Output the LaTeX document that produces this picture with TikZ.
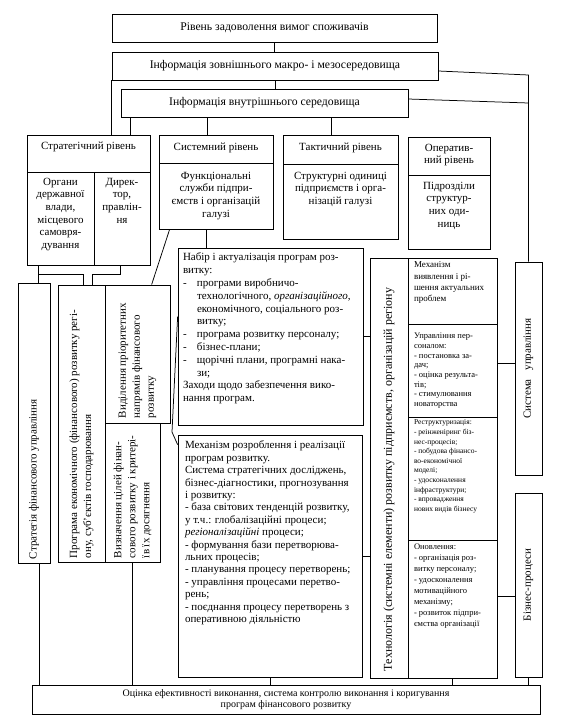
\documentclass[tikz,border=0pt]{standalone}
\usepackage{fontspec}
\setmainfont{Liberation Serif}
\usetikzlibrary{fit}
\begin{document}
\begin{tikzpicture}[x=1pt,y=-1pt,line width=0.75pt,
  bx/.style={draw,inner sep=0pt,fit={#1}},
  tc/.style={inner sep=0pt,align=center,font=\fontsize{11}{12.6}\selectfont},
  hd/.style={inner sep=0pt,align=center,font=\fontsize{11.7}{13}\selectfont},
  tl/.style={inner sep=0pt,align=left,font=\fontsize{11}{12.2}\selectfont},
  sm/.style={inner sep=0pt,align=left},
  rot/.style={rotate=90,inner sep=0pt,align=left,font=\fontsize{11}{14}\selectfont}]
\useasboundingbox (0,0) rectangle (586,716);

% ---------- boxes ----------
\node[bx={(112,14)(437,42)}] (lvl) {};
\node[bx={(112,52)(438,80)}] (ext) {};
\node[bx={(121,89)(408,117)}] (int) {};

\node[bx={(27,135)(150,172)}] (stT) {};
\node[bx={(27,172)(94,265)}] (stL) {};
\node[bx={(94,172)(150,265)}] (stR) {};
\node[bx={(27,135)(150,265)}] (strat) {};

\node[bx={(159,135)(273,163)}] (syT) {};
\node[bx={(159,163)(273,229)}] (syB) {};
\node[bx={(159,135)(273,229)}] (sys) {};

\node[bx={(283,135)(398,164)}] (taT) {};
\node[bx={(283,164)(398,239)}] (taB) {};
\node[bx={(283,135)(398,239)}] (tact) {};

\node[bx={(408,137)(490,175)}] (opT) {};
\node[bx={(408,175)(490,249)}] (opB) {};

\node[bx={(18,283)(50,563)}] (fsu) {};
\node[bx={(58,285)(105,562)}] (prog) {};
\node[bx={(105,285)(170,423)}] (prio) {};
\node[bx={(105,423)(160,562)}] (goal) {};

\node[bx={(178,248)(363,425)}] (nabir) {};
\node[bx={(178,435)(362,677)}] (mech) {};

\node[bx={(370,258)(408,678)}] (tech) {};
\node[bx={(408,258)(497,324)}] (r1) {};
\node[bx={(408,324)(497,417)}] (r2) {};
\node[bx={(408,417)(497,540)}] (r3) {};
\node[bx={(408,540)(497,678)}] (r4) {};

\node[bx={(515,262)(542,475)}] (su) {};
\node[bx={(515,493)(542,677)}] (bp) {};

\node[bx={(32,685)(540,714)}] (eval) {};

% ---------- texts ----------
\node[hd] (t-lvl) at (lvl) {Рівень задоволення вимог споживачів};
\node[hd] (t-ext) at (ext) {Інформація зовнішнього макро- і мезосередовища};
\node[hd] (t-int) at (int) {Інформація внутрішнього середовища};

\node[tc,anchor=north] (t-stT) at ([yshift=-7pt]stT.north) {Стратегічний рівень};
\node[tc,anchor=north] (t-stL) at ([yshift=-6pt]stL.north) {Органи\\державної\\влади,\\місцевого\\самовря-\\дування};
\node[tc,anchor=north] (t-stR) at ([yshift=-6pt]stR.north) {Дирек-\\тор,\\правлін-\\ня};

\node[tc,anchor=north] (t-syT) at ([yshift=-8pt]syT.north) {Системний рівень};
\node[tc,anchor=north] (t-syB) at ([yshift=-9pt]syB.north) {Функціональні\\служби підпри-\\ємств і організацій\\галузі};

\node[tc,anchor=north] (t-taT) at ([yshift=-8pt]taT.north) {Тактичний рівень};
\node[tc,anchor=north] (t-taB) at ([yshift=-8pt]taB.north) {Структурні одиниці\\підприємств і орга-\\нізацій галузі};

\node[tc,anchor=north] (t-opT) at ([yshift=-7pt]opT.north) {Оператив-\\ний рівень};
\node[tc,anchor=north] (t-opB) at ([yshift=-7pt]opB.north) {Підрозділи\\структур-\\них оди-\\ниць};

\node[rot,anchor=west] (t-fsu) at ([yshift=4pt]fsu.south) {Стратегія фінансового управління};
\node[rot,anchor=west] (t-prog) at ([yshift=4pt]prog.south) {Програма економічного (фінансового) розвитку регі-\\ону, суб’єктів господарювання};
\node[rot,anchor=west] (t-prio) at ([yshift=5pt]prio.south) {Виділення пріоритетних\\напрямів фінансового\\розвитку};
\node[rot,anchor=west] (t-goal) at ([yshift=4pt]goal.south) {Визначення цілей фінан-\\сового розвитку і критері-\\їв їх досягнення};

\node[tl,anchor=north west,font=\fontsize{11}{12.8}\selectfont] (t-nabir) at ([xshift=5pt,yshift=-5pt]nabir.north west) {%
Набір і актуалізація програм роз-\\
витку:\\
\makebox[14pt][l]{-}програми виробничо-\\
\hspace*{14pt}технологічного, \textit{організаційного},\\
\hspace*{14pt}економічного, соціального роз-\\
\hspace*{14pt}витку;\\
\makebox[14pt][l]{-}програма розвитку персоналу;\\
\makebox[14pt][l]{-}бізнес-плани;\\
\makebox[14pt][l]{-}щорічні плани, програмні нака-\\
\hspace*{14pt}зи;\\
Заходи щодо забезпечення вико-\\
нання програм.};

\node[tl,anchor=north west,font=\fontsize{11}{12.4}\selectfont] (t-mech) at ([xshift=7pt,yshift=-6pt]mech.north west) {%
Механізм розроблення і реалізації\\
програм розвитку.\\
Система стратегічних досліджень,\\
бізнес-діагностики, прогнозування\\
і розвитку:\\
- база світових тенденцій розвитку,\\
у т.ч.: глобалізаційні процеси;\\
\textit{регіоналізаційні} процеси;\\
- формування бази перетворюва-\\
льних процесів;\\
- планування процесу перетворень;\\
- управління процесами перетво-\\
рень;\\
- поєднання процесу перетворень з\\
оперативною діяльністю};

\node[rot,anchor=west,font=\fontsize{12}{14}\selectfont] (t-tech) at ([yshift=7pt]tech.south) {Технологія (системні елементи) розвитку підприємств, організацій регіону};

\node[sm,anchor=north west,font=\fontsize{9}{11.3}\selectfont] (t-r1) at ([xshift=6pt,yshift=-4pt]r1.north west) {Механізм\\виявлення і рі-\\шення актуальних\\проблем};
\node[sm,anchor=north west,font=\fontsize{8.5}{9.7}\selectfont] (t-r2) at ([xshift=6pt,yshift=-9pt]r2.north west) {Управління пер-\\соналом:\\- постановка за-\\дач;\\- оцінка результа-\\тів;\\- стимулювання\\новаторства};
\node[sm,anchor=north west,font=\fontsize{7.5}{9.6}\selectfont] (t-r3) at ([xshift=6pt,yshift=-3pt]r3.north west) {Реструктуризація:\\- реінженіринг біз-\\нес-процесів;\\- побудова фінансо-\\во-економічної\\моделі;\\- удосконалення\\інфраструктури;\\- впровадження\\нових видів бізнесу};
\node[sm,anchor=north west,font=\fontsize{8.5}{11}\selectfont] (t-r4) at ([xshift=6pt,yshift=-4pt]r4.north west) {Оновлення:\\- організація роз-\\витку персоналу;\\- удосконалення\\мотиваційного\\механізму;\\- розвиток підпри-\\ємства організації};

\node[rot,align=center] (t-su) at (su.center) {Система\hspace{6pt} управління};
\node[rot,align=center] (t-bp) at (bp.center) {Бізнес-процеси};

\node[tc,font=\fontsize{10}{11}\selectfont] (t-eval) at (eval.center) {Оцінка ефективності виконання, система контролю виконання і коригування\\програм фінансового розвитку};

% ---------- connectors ----------
\draw (lvl.south) -- (lvl.south |- ext.north);
\draw (ext.south) -- (ext.south |- int.north);
\draw (ext.south west) -- (ext.south west |- strat.north);
\coordinate (a1) at ([xshift=10pt]int.south west);
\draw (a1) -- (a1 |- strat.north);
\coordinate (a2) at ([xshift=-9pt]sys.north);
\draw (a2 |- int.south) -- (a2);
\coordinate (a3) at ([xshift=-9.5pt]tact.north);
\draw (a3 |- int.south) -- (a3);

\coordinate (e1) at (528.5,75);
\coordinate (e2) at (528.5,103);
\draw ([yshift=-5pt]ext.east) -- (e1) -- (su.north);
\draw ([yshift=4pt]int.east) -- (e2);

\coordinate (c1) at (38,274);
\coordinate (c2) at (83,274);
\coordinate (c3) at (120,274);
\coordinate (c4) at (92,274);
\draw (strat.south -| c1) -- (fsu.north -| c1);
\draw (c1) -- (c2) -- (prog.north -| c2);
\draw (strat.south -| c3) -- (c3) -- (c4) -- (prog.north -| c4);

\draw ([xshift=11pt]sys.south west) -- ([xshift=47pt]prio.north west);
\coordinate (s2) at ([xshift=48pt]sys.south west);
\draw (s2) -- (s2 |- nabir.north);

\coordinate (m1) at (172,432);
\draw ([yshift=-69pt]nabir.north west) -- (m1) -- ([yshift=-10pt]mech.north west);

\draw (nabir.east) -- (nabir.east -| tech.west);
\draw (mech.east) -- (mech.east -| tech.west);

\coordinate (k1) at (497,363);
\coordinate (k2) at (497,596);
\draw (k1) -- (k1 -| su.west);
\draw (k2) -- (k2 -| bp.west);

\coordinate (b1) at ([xshift=22pt]fsu.south west);
\draw (b1) -- (b1 |- eval.north);
\draw (goal.south) -- (goal.south |- eval.north);
\draw (mech.south) -- (mech.south |- eval.north);
\draw (r4.south) -- (r4.south |- eval.north);
\draw (bp.south) -- (bp.south |- eval.north);
\end{tikzpicture}
\end{document}
